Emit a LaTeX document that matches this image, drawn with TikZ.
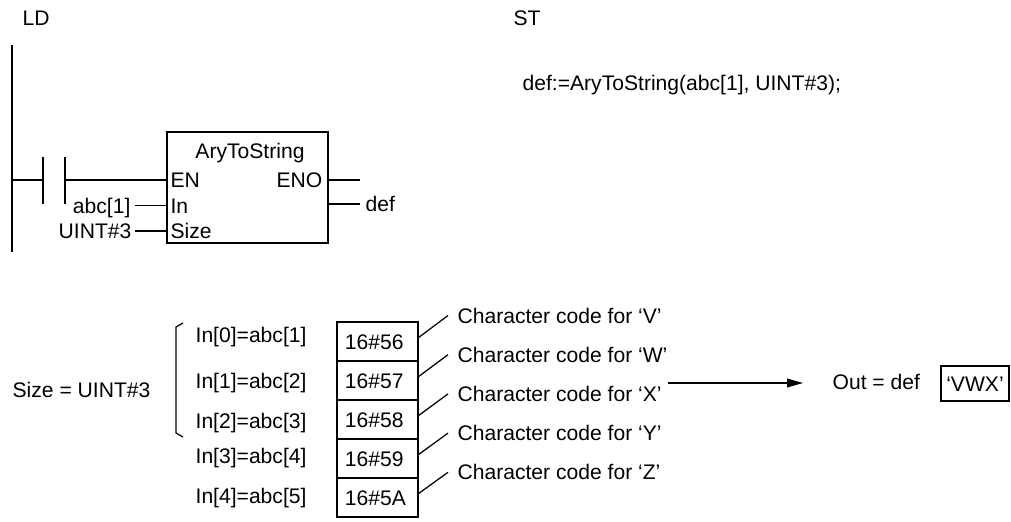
\documentclass[tikz,border=0pt]{standalone}
\usepackage{fontspec}
\setmainfont{Liberation Sans}
\usetikzlibrary{arrows.meta,calc}

\begin{document}
\begin{tikzpicture}[x=0.025cm, y=-0.025cm, line width=0.9pt,
  every node/.style={font=\fontsize{15}{18}\selectfont, inner sep=0pt, text height=10.7pt, text depth=0pt},
  rail/.style={line width=1.8pt},
  bar/.style={line width=1.2pt},
  fbbox/.style={draw, minimum width=4.025cm, minimum height=2.775cm},
  cell/.style={draw, minimum width=2.025cm, minimum height=0.975cm, text width=1.625cm, align=left, inner xsep=0.2cm},
  outbox/.style={draw, minimum width=1.7cm, minimum height=0.875cm}]
  \useasboundingbox (0,0) rectangle (1011,521);

  % headings
  \node[anchor=west] (ld) at (22,17.5) {LD};
  \node[anchor=west] (st) at (513,18) {ST};
  \node[anchor=west] (stcode) at (522,83) {def:=AryToString(abc[1], UINT\#3);};

  % ladder rung
  \draw[rail] (12,45) coordinate (railtop) -- (12,252) coordinate (railbot);
  \coordinate (nol) at (43,180);
  \coordinate (nor) at (65,180);
  \draw (railtop |- nol) -- (nol);
  \draw[bar] ([yshift=0.575cm]nol) -- ([yshift=-0.6cm]nol);
  \draw[bar] ([yshift=0.575cm]nor) -- ([yshift=-0.6cm]nor);

  \node[fbbox] (fb) at (247.5,187.5) {};
  \node (fbname) at (250,150.5) {AryToString};
  \node[anchor=west] (fben) at (170,180) {EN};
  \node[anchor=east] (fbeno) at (323,180) {ENO};
  \node[anchor=west] (fbin) at (170,205.5) {In};
  \node[anchor=west] (fbsize) at (170,231) {Size};
  \draw (nor) -- (nor -| fb.west);

  \node[anchor=east] (inabc) at (131,205.5) {abc[1]};
  \node[anchor=east] (inuint) at (132,231) {UINT\#3};
  \draw ([xshift=0.1cm]inabc.east) -- (inabc.east -| fb.west);
  \draw ([xshift=0.075cm]inuint.east) -- (inuint.east -| fb.west);

  \coordinate (enoend) at (360,180);
  \node[anchor=west] (outdef) at (365,204) {def};
  \draw (fbeno -| fb.east) -- (enoend);
  \draw (outdef -| fb.east) -- ([xshift=-0.125cm]outdef.west);

  % array contents
  \node[anchor=west] (sizel) at (12,389.5) {Size = UINT\#3};
  \draw (183,323) -- (176,327) -- (176,433) -- (183,437);

  \node[anchor=west] (in0) at (195,335) {In[0]=abc[1]};
  \node[anchor=west] (in1) at (195,380.5) {In[1]=abc[2]};
  \node[anchor=west] (in2) at (195,421) {In[2]=abc[3]};
  \node[anchor=west] (in3) at (195,455.5) {In[3]=abc[4]};
  \node[anchor=west] (in4) at (195,496) {In[4]=abc[5]};

  \node[cell] (c0) at (377.5,341.5) {16\#56};
  \node[cell] (c1) at (377.5,380.5) {16\#57};
  \node[cell] (c2) at (377.5,419.5) {16\#58};
  \node[cell] (c3) at (377.5,458.5) {16\#59};
  \node[cell] (c4) at (377.5,497.5) {16\#5A};

  \node[anchor=west] (ch0) at (457,315.5) {Character code for ‘V’};
  \node[anchor=west] (ch1) at (457,354.7) {Character code for ‘W’};
  \node[anchor=west] (ch2) at (457,393.9) {Character code for ‘X’};
  \node[anchor=west] (ch3) at (457,433.1) {Character code for ‘Y’};
  \node[anchor=west] (ch4) at (457,472.3) {Character code for ‘Z’};

  \draw ([yshift=0.1cm]c0.east) -- ([xshift=-0.225cm]ch0.west);
  \draw ([yshift=0.1cm]c1.east) -- ([xshift=-0.225cm]ch1.west);
  \draw ([yshift=0.1cm]c2.east) -- ([xshift=-0.225cm]ch2.west);
  \draw ([yshift=0.1cm]c3.east) -- ([xshift=-0.225cm]ch3.west);
  \draw ([yshift=0.1cm]c4.east) -- ([xshift=-0.225cm]ch4.west);

  % result
  \coordinate (arrs) at (668,383);
  \coordinate (arre) at (803,383);
  \draw[-{Triangle[length=0.4cm,width=0.22cm]}] (arrs) -- (arre);
  \node[anchor=west] (outl) at (832,381.5) {Out = def};
  \node[outbox] (vwx) at (975,383.5) {‘VWX’};
\end{tikzpicture}
\end{document}
